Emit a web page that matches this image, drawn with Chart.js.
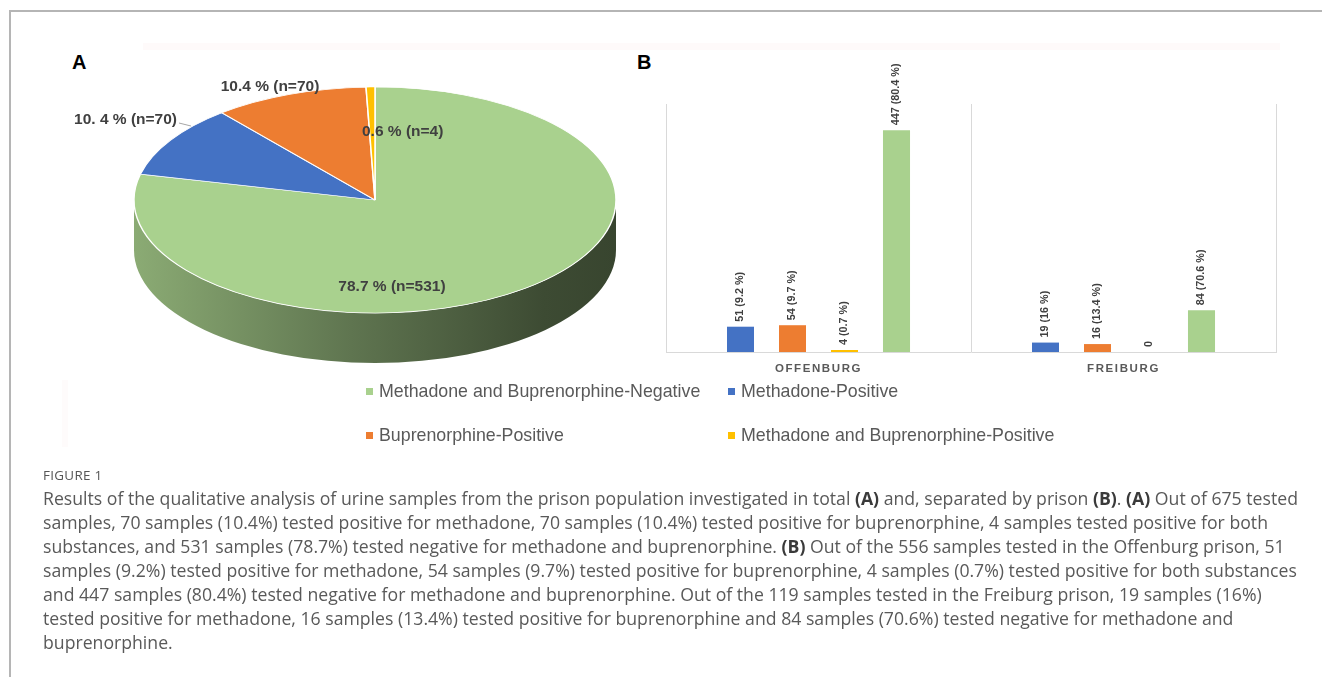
<!DOCTYPE html>
<html><head><meta charset="utf-8">
<script src="https://cdn.jsdelivr.net/npm/chart.js@4.4.1/dist/chart.umd.min.js"></script>
<style>
html,body{margin:0;padding:0;background:#fff;}
body{width:1322px;height:677px;position:relative;overflow:hidden;font-family:'Liberation Sans',Arial,sans-serif;}
.frame{position:absolute;left:9px;top:10px;width:1400px;height:800px;border-left:2px solid #b5b5b5;border-top:2px solid #b5b5b5;}
.band{position:absolute;left:143px;top:43px;width:1137px;height:7px;background:#fefafa;}
.vband{position:absolute;left:62px;top:380px;width:6px;height:67px;background:#fefbfb;}
.panel{position:absolute;font-family:'Liberation Sans',Arial,sans-serif;font-weight:bold;font-size:20px;color:#000;}
#pieCanvas{position:absolute;left:0;top:0;}
#barCanvas{position:absolute;left:640px;top:40px;}
.legend{position:absolute;left:0;top:0;font-size:17.8px;color:#595959;}
.li{position:absolute;white-space:nowrap;display:flex;align-items:center;height:20px;}
.li i{display:inline-block;width:7px;height:7px;margin-right:6px;}
#caption{position:absolute;left:43px;top:463px;color:#595959;font-family:'Open Sans',Lato,sans-serif;white-space:nowrap;}
#caption .fig{font-size:12.5px;letter-spacing:0.3px;line-height:24px;height:23px;color:#555;}
#caption .ln{font-size:16px;line-height:24px;}
#caption b{color:#3a3a3a;}
</style></head>
<body>
<div class="frame"></div>
<div class="band"></div>
<div class="vband"></div>
<div class="panel" style="left:72px;top:51px;">A</div>
<div class="panel" style="left:637px;top:51px;">B</div>
<canvas id="pieCanvas" width="640" height="500"></canvas>
<canvas id="barCanvas" width="660" height="345"></canvas>
<div class="legend" id="legend"></div>
<div id="caption">
<div class="fig" id="figLbl">FIGURE 1</div>
<div class="ln" id="firstLine">Results of the qualitative analysis of urine samples from the prison population investigated in total <b>(A)</b> and, separated by prison <b>(B)</b>. <b>(A)</b> Out of 675 tested</div>
<div class="ln">samples, 70 samples (10.4%) tested positive for methadone, 70 samples (10.4%) tested positive for buprenorphine, 4 samples tested positive for both</div>
<div class="ln">substances, and 531 samples (78.7%) tested negative for methadone and buprenorphine. <b>(B)</b> Out of the 556 samples tested in the Offenburg prison, 51</div>
<div class="ln">samples (9.2%) tested positive for methadone, 54 samples (9.7%) tested positive for buprenorphine, 4 samples (0.7%) tested positive for both substances</div>
<div class="ln">and 447 samples (80.4%) tested negative for methadone and buprenorphine. Out of the 119 samples tested in the Freiburg prison, 19 samples (16%)</div>
<div class="ln">tested positive for methadone, 16 samples (13.4%) tested positive for buprenorphine and 84 samples (70.6%) tested negative for methadone and</div>
<div class="ln">buprenorphine.</div>
</div>
<script>
// ---------- DATA ----------
const categoryNames = ['Methadone and Buprenorphine-Negative', 'Methadone-Positive', 'Buprenorphine-Positive', 'Methadone and Buprenorphine-Positive'];
const categoryColors = ['#a9d18e', '#4472c4', '#ed7d31', '#ffc000'];

// Panel A (total)
const pieCounts = [531, 70, 70, 4];
const pieLabelTexts = ['78.7 % (n=531)', '10. 4 % (n=70)', '10.4 % (n=70)', '0.6 % (n=4)'];

// Panel B (by prison)
const prisons = ['OFFENBURG', 'FREIBURG'];
const methadonePositive = [51, 19];
const methadonePct = ['9.2', '16'];
const buprenorphinePositive = [54, 16];
const buprenorphinePct = ['9.7', '13.4'];
const bothPositive = [4, 0];
const bothPct = ['0.7', null];
const bothNegative = [447, 84];
const negativePct = ['80.4', '70.6'];

// ---------- helpers ----------
function shade(hex, f) {
  const n = parseInt(hex.slice(1), 16);
  const r = Math.round(((n >> 16) & 255) * f), g = Math.round(((n >> 8) & 255) * f), b = Math.round((n & 255) * f);
  return `rgb(${r},${g},${b})`;
}
const labelFont = "bold 15.5px 'Liberation Sans',Arial,sans-serif";

// ---------- 3D pie plugin ----------
const pie3d = {
  id: 'pie3d',
  beforeDatasetsDraw(chart, args, o) {
    const meta = chart.getDatasetMeta(0);
    const a0 = meta.data[0];
    const ctx = chart.ctx;
    const r = a0.outerRadius, k = o.tilt, d = o.depth, cx = o.cx, cy = o.cy;
    meta.data.forEach((arc, i) => {
      const TAU = Math.PI * 2;
      let s = arc.startAngle, e = arc.endAngle;
      while (s < 0) { s += TAU; e += TAU; }
      [[0, Math.PI], [TAU, TAU + Math.PI]].forEach(([lo, hi]) => {
        const ss = Math.max(s, lo), ee = Math.min(e, hi);
        if (ee <= ss) return;
        const col = chart.data.datasets[0].backgroundColor[i];
        const g = ctx.createLinearGradient(cx - r, 0, cx + r, 0);
        g.addColorStop(0, shade(col, 0.82));
        g.addColorStop(0.45, shade(col, 0.56));
        g.addColorStop(0.85, shade(col, 0.36));
        g.addColorStop(1, shade(col, 0.33));
        ctx.beginPath();
        ctx.ellipse(cx, cy, r, r * k, 0, ss - lo, ee - lo, false);
        ctx.ellipse(cx, cy + d, r, r * k, 0, ee - lo, ss - lo, true);
        ctx.closePath();
        ctx.fillStyle = g;
        ctx.fill();
      });
    });
    ctx.save();
    ctx.translate(cx, cy);
    ctx.scale(1, k);
    ctx.translate(-a0.x, -a0.y);
  },
  afterDatasetsDraw(chart, args, o) {
    const ctx = chart.ctx;
    ctx.restore();
    ctx.save();
    ctx.font = labelFont;
    ctx.fillStyle = '#404040';
    ctx.textBaseline = 'middle';
    o.labels.forEach((L, i) => {
      ctx.textAlign = L.align;
      ctx.fillText(pieLabelTexts[i], o.cx + L.dx, o.cy + L.dy);
    });
    ctx.strokeStyle = '#a6a6a6';
    ctx.lineWidth = 1;
    ctx.beginPath();
    ctx.moveTo(179, 123); ctx.lineTo(191, 126);
    ctx.stroke();
    ctx.restore();
  }
};

new Chart(document.getElementById('pieCanvas'), {
  type: 'pie',
  data: {
    labels: categoryNames,
    datasets: [{
      data: pieCounts,
      backgroundColor: categoryColors,
      borderColor: '#ffffff',
      borderWidth: 1.5,
      radius: 241,
      clip: false
    }]
  },
  options: {
    responsive: false,
    animation: false,
    events: [],
    rotation: 0,
    layout: { padding: 0 },
    plugins: {
      legend: { display: false },
      tooltip: { enabled: false },
      pie3d: {
        cx: 375, cy: 200, tilt: 0.469, depth: 50,
        labels: [
          { dx: 17, dy: 87, align: 'center' },
          { dx: -198, dy: -80, align: 'right' },
          { dx: -105, dy: -113, align: 'center' },
          { dx: -13, dy: -68, align: 'left' }
        ]
      }
    }
  },
  plugins: [pie3d]
});

// ---------- bar chart ----------
const barLabelPlugin = {
  id: 'barLabelPlugin',
  beforeDraw(chart) { chart.ctx.letterSpacing = '1.6px'; },
  beforeDatasetsDraw(chart) { chart.ctx.letterSpacing = '0px'; },
  afterDatasetsDraw(chart) {
    const ctx = chart.ctx;
    ctx.save();
    ctx.font = "bold 10.8px 'Liberation Sans',Arial,sans-serif";
    ctx.fillStyle = '#404040';
    ctx.textAlign = 'left';
    ctx.textBaseline = 'middle';
    chart.data.datasets.forEach((ds, di) => {
      chart.getDatasetMeta(di).data.forEach((bar, i) => {
        const v = ds.data[i], p = ds.pct[i];
        const txt = p === null ? String(v) : `${v} (${p} %)`;
        ctx.save();
        ctx.translate(bar.x, bar.y - 5);
        ctx.rotate(-Math.PI / 2);
        ctx.fillText(txt, 0, 0);
        ctx.restore();
      });
    });
    ctx.restore();
  }
};

const barDatasets = [
  { label: categoryNames[1], data: methadonePositive, pct: methadonePct, backgroundColor: categoryColors[1] },
  { label: categoryNames[2], data: buprenorphinePositive, pct: buprenorphinePct, backgroundColor: categoryColors[2] },
  { label: categoryNames[3], data: bothPositive, pct: bothPct, backgroundColor: categoryColors[3] },
  { label: categoryNames[0], data: bothNegative, pct: negativePct, backgroundColor: categoryColors[0] }
].map(d => Object.assign(d, { barPercentage: 0.52, categoryPercentage: 0.682 }));

new Chart(document.getElementById('barCanvas'), {
  type: 'bar',
  data: { labels: prisons, datasets: barDatasets },
  options: {
    responsive: false,
    animation: false,
    events: [],
    layout: { padding: { left: 26, right: 24, top: 64, bottom: 0 } },
    plugins: { legend: { display: false }, tooltip: { enabled: false } },
    scales: {
      x: {
        grid: { color: '#d9d9d9', drawTicks: false, offset: true, lineWidth: 1 },
        border: { color: '#d9d9d9' },
        ticks: { color: '#595959', padding: 10, font: { family: "'Liberation Sans',Arial,sans-serif", size: 11.5, weight: 'bold' } },
        afterFit: s => { s.height = 33; }
      },
      y: { display: false, min: 0, max: 500 }
    }
  },
  plugins: [barLabelPlugin]
});

// ---------- legend (HTML, from the data arrays) ----------
const legendSlots = [
  { left: 366, top: 381 }, { left: 728, top: 381 },
  { left: 366, top: 425 }, { left: 728, top: 425 }
];
const lg = document.getElementById('legend');
[0, 1, 2, 3].forEach((ci, j) => {
  const el = document.createElement('div');
  el.className = 'li';
  el.style.left = legendSlots[j].left + 'px';
  el.style.top = legendSlots[j].top + 'px';
  el.innerHTML = `<i style="background:${categoryColors[ci]}"></i>${categoryNames[ci]}`;
  lg.appendChild(el);
});

// ---------- caption: fit the first line to the reference width ----------
(function fitCaption() {
  const first = document.getElementById('firstLine');
  const span = document.createElement('span');
  span.innerHTML = first.innerHTML;
  first.innerHTML = '';
  first.appendChild(span);
  const w = span.getBoundingClientRect().width;
  const fs = 16 * 1255 / w;
  document.querySelectorAll('#caption .ln').forEach(el => { el.style.fontSize = fs.toFixed(2) + 'px'; });
  const fig = document.getElementById('figLbl');
  fig.style.fontSize = (fs * 0.76).toFixed(2) + 'px';
})();
</script>
</body></html>
